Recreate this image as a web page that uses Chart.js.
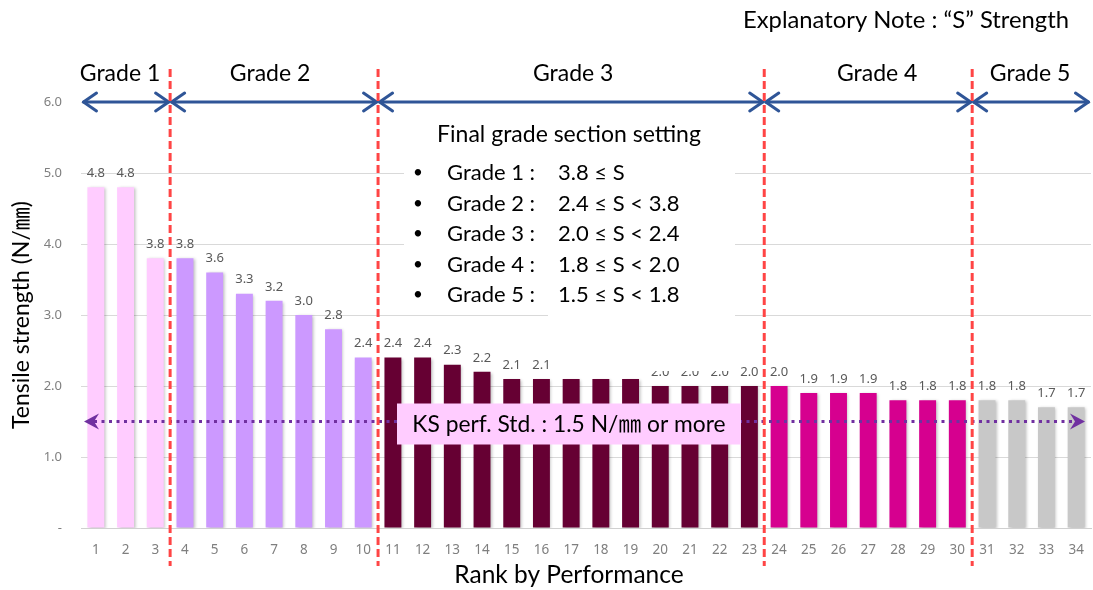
<!DOCTYPE html>
<html>
<head>
<meta charset="utf-8">
<script src="https://cdn.jsdelivr.net/npm/chart.js@4.4.1/dist/chart.umd.min.js"></script>
<style>
  html, body { margin: 0; padding: 0; background: #ffffff; }
  #wrap { width: 1093px; height: 590px; position: relative; }
</style>
</head>
<body>
<div id="wrap"><canvas id="c" width="1093" height="590"></canvas></div>
<script>
// Rank of each specimen and its tensile strength (N/mm)
const ranks = ['1','2','3','4','5','6','7','8','9','10','11','12','13','14','15','16','17',
               '18','19','20','21','22','23','24','25','26','27','28','29','30','31','32','33','34'];
const strength = [4.8, 4.8, 3.8, 3.8, 3.6, 3.3, 3.2, 3.0, 2.8, 2.4, 2.4, 2.4, 2.3, 2.2, 2.1, 2.1, 2.1,
                  2.1, 2.1, 2.0, 2.0, 2.0, 2.0, 2.0, 1.9, 1.9, 1.9, 1.8, 1.8, 1.8, 1.8, 1.8, 1.7, 1.7];
// Grade assigned to each rank
const grade = [1, 1, 1, 2, 2, 2, 2, 2, 2, 2, 3, 3, 3, 3, 3, 3, 3,
               3, 3, 3, 3, 3, 3, 4, 4, 4, 4, 4, 4, 4, 5, 5, 5, 5];
const gradeColors = ['#FFCCFF', '#CC99FF', '#660033', '#D6008F', '#C8C8C8'];
const gradeTitles = ['Grade 1', 'Grade 2', 'Grade 3', 'Grade 4', 'Grade 5'];
const gradeRules  = ['3.8 \u2264 S', '2.4 \u2264 S < 3.8', '2.0 \u2264 S < 2.4', '1.8 \u2264 S < 2.0', '1.5 \u2264 S < 1.8'];
const yTicks = [0, 1, 2, 3, 4, 5, 6];
const ksStandard = 1.5;

const TEXT_FONT = 'Lato, "Noto Sans CJK KR", sans-serif';
const NUM_FONT = '"Noto Sans", "Open Sans", sans-serif';

function chevron(ctx, x, y, dir) {
  ctx.beginPath();
  ctx.moveTo(x - dir * 13, y - 9);
  ctx.lineTo(x, y);
  ctx.lineTo(x - dir * 13, y + 9);
  ctx.stroke();
}
function stealth(ctx, x, y, dir) {
  ctx.beginPath();
  ctx.moveTo(x, y);
  ctx.lineTo(x - dir * 15, y - 8);
  ctx.lineTo(x - dir * 10, y);
  ctx.lineTo(x - dir * 15, y + 8);
  ctx.closePath();
  ctx.fill();
}

const barShadow = {
  id: 'barShadow',
  beforeDatasetsDraw(chart) {
    const ctx = chart.ctx;
    ctx.save();
    ctx.shadowColor = 'rgba(0,0,0,0.25)';
    ctx.shadowBlur = 3;
    ctx.shadowOffsetX = 1.5;
    ctx.shadowOffsetY = 1;
  },
  afterDatasetsDraw(chart) { chart.ctx.restore(); }
};

const overlay = {
  id: 'overlay',
  afterDraw(chart) {
    const ctx = chart.ctx;
    const xs = chart.scales.x, ys = chart.scales.y;
    const area = chart.chartArea;
    const meta = chart.getDatasetMeta(0);
    ctx.save();

    // value labels above bars
    ctx.font = '13px ' + NUM_FONT;
    ctx.fillStyle = '#595959';
    ctx.textAlign = 'center';
    ctx.textBaseline = 'middle';
    meta.data.forEach((bar, i) => {
      ctx.fillText(strength[i].toFixed(1), bar.x, bar.y - 14);
    });

    // grade section setting box
    ctx.fillStyle = '#ffffff';
    ctx.fillRect(404, 113, 331, 200);
    ctx.fillRect(548, 312, 187, 59);
    ctx.fillStyle = '#000000';
    ctx.font = '23px ' + TEXT_FONT;
    ctx.textAlign = 'center';
    ctx.fillText('Final grade section setting', 569, 135);
    ctx.font = '22px ' + TEXT_FONT;
    gradeTitles.forEach((g, i) => {
      const y = 173 + i * 30.5;
      ctx.textAlign = 'center';
      ctx.font = '17px ' + TEXT_FONT;
      ctx.fillText('\u2022', 418, y);
      ctx.font = '22px ' + TEXT_FONT;
      ctx.textAlign = 'left';
      ctx.fillText(g + ' :', 447, y);
      ctx.fillText(gradeRules[i], 558, y);
    });

    // KS performance standard line
    const ky = ys.getPixelForValue(ksStandard);
    const kl = area.left + 3, kr = area.right - 6;
    ctx.strokeStyle = '#7030A0';
    ctx.fillStyle = '#7030A0';
    ctx.lineWidth = 3;
    ctx.setLineDash([3, 4.5]);
    ctx.beginPath();
    ctx.moveTo(kl + 10, ky);
    ctx.lineTo(kr - 10, ky);
    ctx.stroke();
    ctx.setLineDash([]);
    stealth(ctx, kl, ky, -1);
    stealth(ctx, kr, ky, 1);
    ctx.fillStyle = '#FFCCFF';
    ctx.fillRect(397, ky - 18, 344, 41);
    ctx.fillStyle = '#000000';
    ctx.font = '22.8px ' + TEXT_FONT;
    ctx.textAlign = 'center';
    ctx.fillText('KS perf. Std. : 1.5 N/\u339C or more', 569, ky + 3);

    // grade section boundaries
    const bounds = [area.left + 1];
    for (let i = 1; i < grade.length; i++) {
      if (grade[i] !== grade[i - 1]) {
        bounds.push((xs.getPixelForValue(i - 1) + xs.getPixelForValue(i)) / 2);
      }
    }
    bounds.push(area.right - 1);
    const ay = ys.getPixelForValue(6);

    // blue double arrows and grade titles
    const titleShift = [-6, -4, 2, 9, -1];
    ctx.strokeStyle = '#2F5597';
    ctx.lineWidth = 3;
    ctx.lineCap = 'round';
    ctx.lineJoin = 'round';
    for (let g = 0; g < gradeTitles.length; g++) {
      const a = bounds[g] + 1.5, b = bounds[g + 1] - 1.5;
      ctx.beginPath();
      ctx.moveTo(a, ay);
      ctx.lineTo(b, ay);
      ctx.stroke();
      chevron(ctx, a, ay, -1);
      chevron(ctx, b, ay, 1);
      ctx.fillStyle = '#000000';
      ctx.font = '23px ' + TEXT_FONT;
      ctx.textAlign = 'center';
      ctx.textBaseline = 'middle';
      ctx.fillText(gradeTitles[g], (a + b) / 2 + titleShift[g], 74);
    }

    // red dashed dividers
    ctx.strokeStyle = '#FF4545';
    ctx.lineWidth = 3;
    ctx.lineCap = 'butt';
    ctx.setLineDash([8, 4]);
    for (let i = 1; i < bounds.length - 1; i++) {
      ctx.beginPath();
      ctx.moveTo(bounds[i], 69);
      ctx.lineTo(bounds[i], 566);
      ctx.stroke();
    }
    ctx.setLineDash([]);

    // note and x axis title
    ctx.fillStyle = '#000000';
    ctx.font = '23.8px ' + TEXT_FONT;
    ctx.textAlign = 'center';
    ctx.fillText('Explanatory Note : \u201CS\u201D Strength', 906, 20);
    ctx.font = '24.5px ' + TEXT_FONT;
    ctx.fillText('Rank by Performance', 569, 575);

    ctx.restore();
  }
};

new Chart(document.getElementById('c'), {
  type: 'bar',
  data: {
    labels: ranks,
    datasets: [{
      data: strength,
      backgroundColor: grade.map(g => gradeColors[g - 1]),
      borderWidth: 0,
      categoryPercentage: 0.57,
      barPercentage: 1.0
    }]
  },
  options: {
    responsive: false,
    animation: false,
    devicePixelRatio: 1,
    layout: { padding: { top: 102, right: 2, left: 0, bottom: 0 } },
    plugins: { legend: { display: false }, tooltip: { enabled: false } },
    scales: {
      x: {
        grid: { display: false },
        border: { display: true, color: '#D0D0D0', width: 1 },
        ticks: { color: '#7F7F7F', font: { size: 13.5, family: NUM_FONT }, padding: 6, maxRotation: 0, autoSkip: false },
        afterFit(s) { s.height = 62; }
      },
      y: {
        min: 0, max: 6,
        afterBuildTicks(s) { s.ticks = yTicks.map(v => ({ value: v })); },
        grid: { color: '#D9D9D9', drawTicks: false },
        border: { display: false },
        ticks: {
          color: '#7F7F7F', font: { size: 13, family: NUM_FONT }, padding: 19,
          callback: v => (v === 0 ? '-' : v.toFixed(1))
        },
        title: {
          display: true, text: 'Tensile strength (N/\u339C)', color: '#000000',
          font: { size: 23, family: TEXT_FONT }, padding: { top: 8, bottom: 0 }
        },
        afterFit(s) { s.width = 81; }
      }
    }
  },
  plugins: [barShadow, overlay]
});
</script>
</body>
</html>
